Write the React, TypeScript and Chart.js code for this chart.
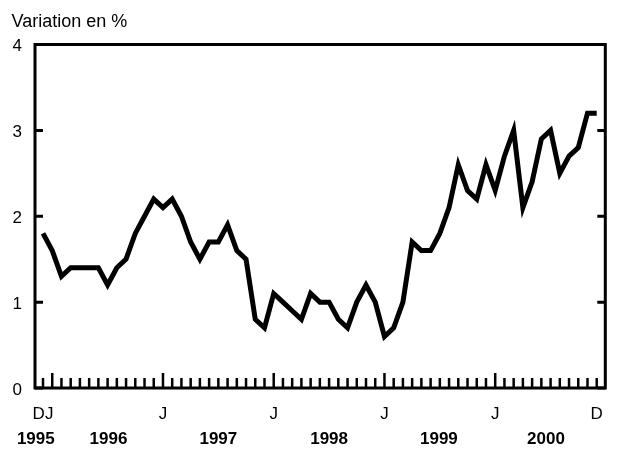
import React, { useEffect, useRef } from "react";
import { Chart, registerables } from "chart.js";

Chart.register(...registerables);

// Monthly values, December 1995 (index 0) through December 2000 (index 60)
const values: number[] = [
  1.8, 1.6, 1.3, 1.4, 1.4, 1.4, 1.4, 1.2, 1.4, 1.5,
  1.8, 2.0, 2.2, 2.1, 2.2, 2.0, 1.7, 1.5, 1.7, 1.7,
  1.9, 1.6, 1.5, 0.8, 0.7, 1.1, 1.0, 0.9, 0.8, 1.1,
  1.0, 1.0, 0.8, 0.7, 1.0, 1.2, 1.0, 0.6, 0.7, 1.0,
  1.7, 1.6, 1.6, 1.8, 2.1, 2.6, 2.3, 2.2, 2.6, 2.3,
  2.7, 3.0, 2.1, 2.4, 2.9, 3.0, 2.5, 2.7, 2.8, 3.2, 3.2,
];

const titleText = "Variation en %";
const labeledTicks: number[] = [0, 13, 25, 37, 49, 60];
const labeledTickText: string[] = ["DJ", "J", "J", "J", "J", "D"];
const yearLabels: string[] = ["1995", "1996", "1997", "1998", "1999", "2000"];
const yearCenters: number[] = [-0.78, 7.1, 19.0, 31.0, 42.9, 54.5];
const yTicks: number[] = [0, 1, 2, 3, 4];

const FONT = '"Liberation Sans", Arial, Helvetica, sans-serif';

const framePlugin = {
  id: "frame",
  afterDraw(chart: any) {
    const { ctx, chartArea, scales } = chart;
    const { left, top, right, bottom } = chartArea;
    const x = scales.x;
    const y = scales.y;
    ctx.save();
    ctx.strokeStyle = "#000";
    ctx.lineWidth = 3;
    ctx.strokeRect(left, top, right - left, bottom - top);
    ctx.lineWidth = 2.5;
    x.ticks.forEach((t: any) => {
      const px = x.getPixelForValue(t.value);
      const tall = t.value % 12 === 1;
      ctx.beginPath();
      ctx.moveTo(px, bottom);
      ctx.lineTo(px, bottom - (tall ? 15 : 10));
      ctx.stroke();
    });
    ctx.lineWidth = 3;
    ctx.fillStyle = "#000";
    ctx.font = `17px ${FONT}`;
    ctx.textAlign = "right";
    ctx.textBaseline = "middle";
    y.ticks.forEach((t: any) => {
      const py = y.getPixelForValue(t.value);
      ctx.beginPath();
      ctx.moveTo(left, py);
      ctx.lineTo(left + 8, py);
      ctx.moveTo(right, py);
      ctx.lineTo(right - 8, py);
      ctx.stroke();
      ctx.fillText(String(t.value), 22, py + 2);
    });
    ctx.font = `18px ${FONT}`;
    ctx.textAlign = "left";
    ctx.textBaseline = "alphabetic";
    ctx.fillText(titleText, 11.5, 26.5);
    ctx.font = `bold 17px ${FONT}`;
    ctx.textAlign = "center";
    ctx.textBaseline = "middle";
    yearLabels.forEach((lab, i) => {
      ctx.fillText(lab, x.getPixelForValue(yearCenters[i]), 439.5);
    });
    ctx.restore();
  },
};

export default function App() {
  const ref = useRef<HTMLCanvasElement | null>(null);
  useEffect(() => {
    if (!ref.current) return;
    Chart.defaults.font.family = FONT;
    const chart = new Chart(ref.current, {
      type: "line",
      data: {
        datasets: [
          {
            data: values.map((v, i) => ({ x: i, y: v })),
            borderColor: "#000",
            borderWidth: 5,
            pointRadius: 0,
            tension: 0,
            fill: false,
            borderJoinStyle: "miter",
          },
        ],
      },
      options: {
        responsive: false,
        animation: false,
        events: [],
        layout: { padding: { top: 44.5, right: 20.7, left: 0, bottom: 0 } },
        plugins: { legend: { display: false }, tooltip: { enabled: false }, title: { display: false } },
        scales: {
          x: {
            type: "linear",
            min: -0.867,
            max: 60.93,
            grid: { display: false },
            border: { display: false },
            afterBuildTicks: (s: any) => {
              s.ticks = values.map((_, i) => ({ value: i }));
            },
            afterFit: (s: any) => {
              s.height = 63;
            },
            ticks: {
              autoSkip: false,
              maxRotation: 0,
              minRotation: 0,
              padding: 8,
              color: "#000",
              font: { size: 17 },
              callback: (v: any) => {
                const k = labeledTicks.indexOf(Number(v));
                return k >= 0 ? labeledTickText[k] : "";
              },
            },
          },
          y: {
            min: 0,
            max: 4,
            grid: { display: false },
            border: { display: false },
            afterBuildTicks: (s: any) => {
              s.ticks = yTicks.map((v) => ({ value: v }));
            },
            afterFit: (s: any) => {
              s.width = 35;
            },
            ticks: { display: false },
          },
        },
      },
      plugins: [framePlugin],
    } as any);
    return () => chart.destroy();
  }, []);
  return (
    <div style={{ position: "fixed", left: 0, top: 0, width: 626, height: 451, background: "#fff" }}>
      <canvas ref={ref} width={626} height={451} style={{ display: "block" }} />
    </div>
  );
}
